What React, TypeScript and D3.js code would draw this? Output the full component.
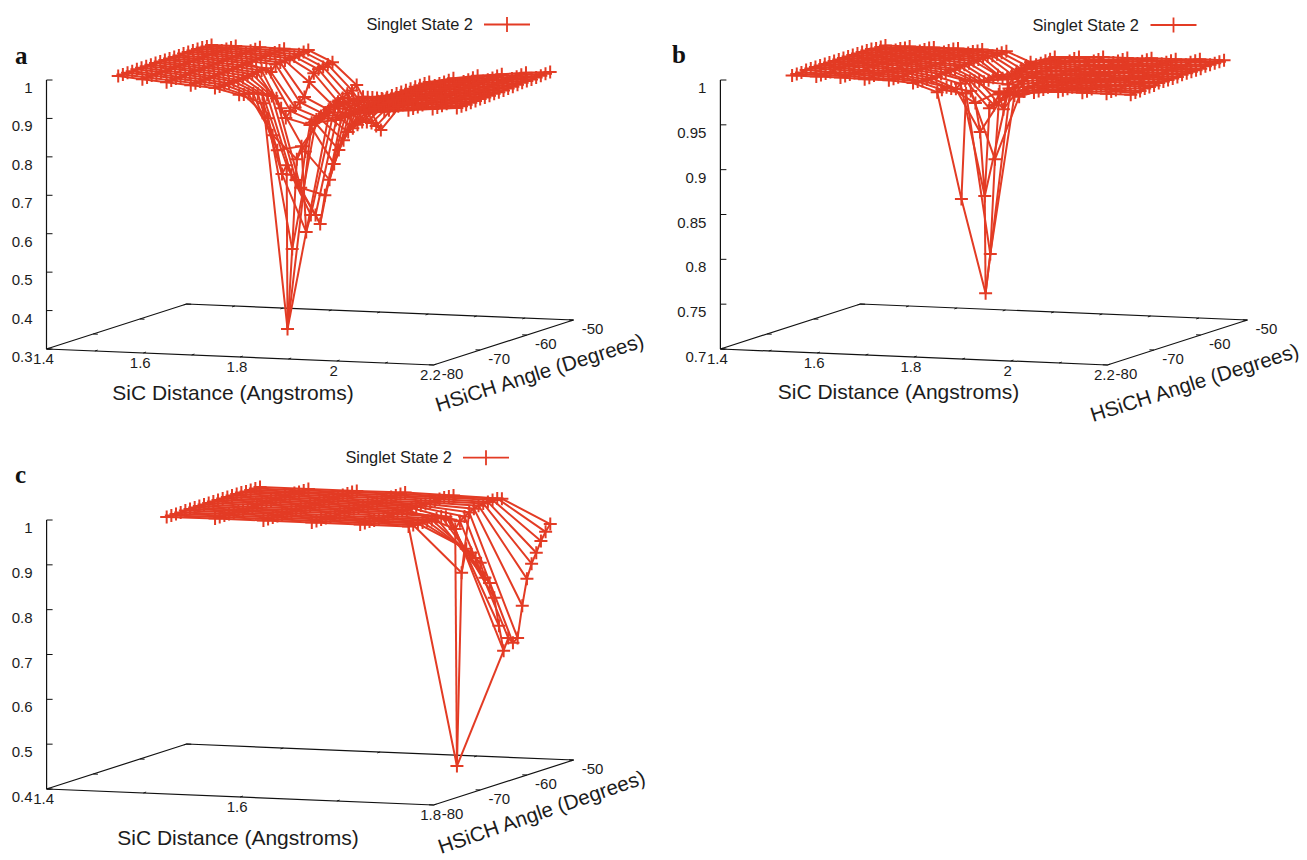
import * as d3 from "d3";

// rows of every z column run from -75 to -55 degrees
const angles = [-75, -74, -73, -72, -71, -70, -69, -68, -67, -66, -65, -64, -63, -62, -61, -60, -59, -58, -57, -56, -55];
const distancesLong = [1.5, 1.55, 1.6, 1.65, 1.7, 1.75, 1.8, 1.85, 1.9, 1.95, 2, 2.05, 2.1, 2.15, 2.2];
const distancesShort = [1.5, 1.55, 1.6, 1.65, 1.7, 1.75, 1.8];

const zA = [
  [.996, .996, .997, .997, .998, .998, .998, .998, .999, .999, .999, .999, .999, .999, 1, 1, 1, 1, 1, .999, .999],
  [.990, .991, .992, .992, .993, .993, .994, .994, .995, .995, .996, .996, .997, .997, .998, .998, .998, .999, .999, .999, .999],
  [.985, .986, .987, .987, .988, .989, .990, .990, .991, .991, .992, .993, .994, .994, .995, .995, .996, .996, .997, .997, .998],
  [.980, .981, .982, .983, .984, .984, .985, .986, .987, .987, .988, .989, .990, .991, .992, .993, .994, .994, .995, .996, .997],
  [.975, .975, .976, .976, .977, .977, .978, .979, .980, .981, .982, .984, .970, .986, .987, .988, .990, .991, .993, .995, .996],
  [.960, .957, .955, .952, .948, .942, .936, .930, .920, .890, .861, .875, .880, .890, .900, .935, .954, .960, .962, .965, .967],
  [.941, .898, .850, .807, .741, .760, .731, .714, .690, .780, .845, .849, .856, .862, .869, .875, .882, .888, .895, .900, .910],
  [.356, .560, .790, .820, .593, .633, .629, .602, .673, .709, .746, .779, .800, .818, .824, .829, .832, .828, .822, .810, .796],
  [.895, .900, .905, .910, .920, .920, .920, .920, .920, .920, .920, .920, .915, .910, .905, .900, .895, .890, .885, .880, .876],
  [.905, .908, .910, .912, .914, .915, .916, .917, .918, .919, .920, .921, .922, .923, .923, .924, .924, .925, .925, .926, .926],
  [.925, .925, .926, .926, .927, .928, .929, .930, .930, .931, .932, .932, .933, .934, .934, .935, .935, .936, .936, .937, .938],
  [.932, .932, .933, .934, .934, .935, .936, .936, .937, .938, .938, .939, .940, .941, .942, .942, .943, .944, .945, .946, .947],
  [.938, .939, .939, .940, .941, .941, .942, .943, .944, .945, .945, .946, .947, .948, .949, .950, .951, .951, .952, .953, .954],
  [.944, .944, .945, .946, .946, .947, .948, .949, .950, .950, .951, .952, .953, .954, .955, .956, .957, .957, .958, .959, .960],
  [.949, .950, .950, .951, .952, .953, .953, .954, .955, .955, .956, .957, .958, .959, .960, .961, .961, .962, .963, .964, .965],
];

const zB = [
  [.999, .999, .999, 1, 1, 1, 1, 1, 1, 1, 1, 1, 1, 1, 1, 1, 1, 1, .999, .999, .999],
  [.999, .999, .999, .999, 1, 1, 1, 1, 1, 1, 1, 1, 1, 1, 1, 1, 1, 1, 1, .999, .999],
  [.999, .999, .999, .999, .999, .999, 1, 1, 1, 1, 1, 1, 1, 1, 1, 1, 1, 1, 1, 1, .999],
  [.998, .998, .999, .999, .999, .999, .999, .999, 1, 1, 1, 1, 1, 1, 1, 1, 1, 1, 1, 1, .999],
  [.998, .998, .998, .998, .999, .999, .999, .999, .999, .999, .999, .999, 1, 1, 1, 1, 1, 1, 1, .999, .999],
  [.996, .996, .995, .995, .995, .995, .996, .996, .997, .997, .998, .998, .998, .999, .999, .999, .999, .998, .998, .998, .998],
  [.987, .988, .989, .986, .984, .988, .990, .988, .986, .984, .982, .982, .983, .984, .979, .978, .980, .982, .983, .985, .987],
  [.869, .985, .986, .971, .937, .864, .960, .962, .972, .954, .980, .984, .986, .988, .990, .991, .992, .992, .993, .993, .994],
  [.765, .807, .911, .985, .980, .985, .978, .986, .988, .990, .990, .991, .992, .992, .993, .993, .994, .994, .994, .995, .995],
  [.988, .985, .982, .986, .988, .989, .990, .990, .991, .991, .992, .992, .993, .993, .993, .994, .994, .995, .995, .995, .996],
  [.991, .991, .991, .992, .992, .992, .993, .993, .993, .993, .994, .994, .994, .995, .995, .995, .995, .996, .996, .996, .996],
  [.993, .993, .993, .993, .993, .994, .994, .994, .994, .995, .995, .995, .995, .996, .996, .996, .996, .996, .997, .997, .997],
  [.993, .993, .994, .994, .994, .994, .995, .995, .995, .995, .995, .996, .996, .996, .996, .997, .997, .997, .997, .997, .997],
  [.993, .994, .994, .994, .995, .995, .995, .995, .996, .996, .996, .996, .996, .997, .997, .997, .997, .997, .998, .998, .998],
  [.993, .994, .994, .995, .995, .995, .996, .996, .996, .996, .996, .997, .997, .997, .997, .997, .998, .998, .998, .998, .998],
];

const zC = [
  [.999, .999, .999, .999, 1, 1, 1, 1, 1, 1, 1, 1, 1, 1, 1, 1, 1, .999, .999, .999, .999],
  [1, 1, 1, 1, 1, 1, .999, .999, .999, 1, 1, 1, 1, 1, 1, 1, 1, 1, .999, .999, .999],
  [1, 1, 1, 1, 1, 1, 1, 1, 1, 1, 1, 1, 1, 1, 1, 1, 1, 1, 1, 1, .999],
  [1, 1, 1, 1, .999, .999, 1, 1, 1, 1, 1, 1, 1, 1, .999, .999, 1, 1, 1, 1, 1],
  [1, 1, 1, .999, .999, .999, .999, 1, 1, 1, 1, 1, 1, .999, .999, .999, .999, 1, 1, .999, .998],
  [1, 1, 1, .999, .999, .998, .998, .999, .995, .985, .961, .975, .982, .988, .993, .996, .998, .998, .999, .999, .995],
  [.470, .898, .948, .936, .921, .907, .870, .855, .8185, .753, .694, .719, .705, .7125, .781, .8375, .868, .889, .912, .929, .943],
];

const ticksZA = [0.3, 0.4, 0.5, 0.6, 0.7, 0.8, 0.9, 1];
const ticksZB = [0.7, 0.75, 0.8, 0.85, 0.9, 0.95, 1];
const ticksZC = [0.4, 0.5, 0.6, 0.7, 0.8, 0.9, 1];
const ticksXLong = [1.4, 1.5, 1.6, 1.7, 1.8, 1.9, 2, 2.1, 2.2];
const ticksXShort = [1.4, 1.5, 1.6, 1.7, 1.8];
const labelsXLong = [1.4, 1.6, 1.8, 2, 2.2];
const labelsXShort = [1.4, 1.6, 1.8];
const ticksAngle = [-80, -70, -60, -50];

// odd joins gnuplot drew through the spike: [col, row, col, row]
const linksA = [[7, 0, 7, 4], [7, 0, 6, 5]];
const linksB = [[8, 0, 7, 5]];
const linksC = [[6, 0, 6, 10], [6, 0, 5, 10], [6, 1, 5, 13]];

const RED = "#e33b24";
const INK = "#1c1c1c";
const SANS = "'Liberation Sans', Arial, sans-serif";
const ANGLE_TITLE = "HSiCH Angle (Degrees)";
const X_TITLE = "SiC Distance (Angstroms)";

type PanelProps = {
  letter: string;
  ox: number;
  oy: number;
  letterPos: [number, number];
  zDomain: [number, number];
  zTicks: number[];
  xDomain: [number, number];
  xTicks: number[];
  xLabels: number[];
  xs: number[];
  z: number[][];
  links: number[][];
  legend: [number, number, number]; // text end, line start, baseline centre
  xTitle: [number, number];
  angleTitle: [number, number, number];
};

function Panel(p: PanelProps) {
  // gnuplot view: x and angle shear into screen, z goes straight up
  const xScreenX = d3.scaleLinear().domain(p.xDomain).range([0, 387]);
  const xScreenY = d3.scaleLinear().domain(p.xDomain).range([0, 16]);
  const aScreenX = d3.scaleLinear().domain([-80, -50]).range([0, 140]);
  const aScreenY = d3.scaleLinear().domain([-80, -50]).range([0, -45]);
  const zScreen = d3.scaleLinear().domain(p.zDomain).range([0, -269]);

  const project = (x: number, a: number, z: number): [number, number] => [
    p.ox + xScreenX(x) + aScreenX(a),
    p.oy + xScreenY(x) + aScreenY(a) + zScreen(z),
  ];
  const line = d3.line();
  const [z0, z1] = p.zDomain;
  const [x0, x1] = p.xDomain;

  const points = p.xs.map((x, c) => angles.map((a, r) => project(x, a, p.z[c][r])));
  const columnPaths = points.map((col) => line(col));
  const rowPaths = angles.map((_, r) => line(points.map((col) => col[r])));
  const linkPaths = p.links.map(([c0, r0, c1, r1]) => line([points[c0][r0], points[c1][r1]]));

  const base = (
    [
      [x0, -80],
      [x1, -80],
      [x1, -50],
      [x0, -50],
      [x0, -80],
    ] as [number, number][]
  ).map(([x, a]) => project(x, a, z0));

  return (
    <g fontFamily={SANS} fill={INK}>
      <text x={p.letterPos[0]} y={p.letterPos[1]} fontFamily="'Liberation Serif', serif" fontWeight="bold" fontSize={25} fill="#111">
        {p.letter}
      </text>

      {/* legend */}
      <text x={p.legend[0]} y={p.legend[2] + 5.5} textAnchor="end" fontSize={16.4}>Singlet State 2</text>
      <path d={`M${p.legend[1]},${p.legend[2]}h46M${p.legend[1] + 23},${p.legend[2] - 7.5}v15`} stroke={RED} strokeWidth={1.8} fill="none" />

      {/* base and z axis */}
      <path d={line(base) ?? ""} fill="none" stroke="#111" strokeWidth={1.2} />
      <path d={line([project(x0, -80, z0), project(x0, -80, z1)]) ?? ""} stroke="#111" strokeWidth={1.2} fill="none" />
      {p.zTicks.map((t) => {
        const [sx, sy] = project(x0, -80, t);
        return (
          <g key={t}>
            <line x1={sx} x2={sx + 6} y1={sy} y2={sy} stroke="#111" />
            <text x={sx - 14} y={sy + 13} textAnchor="end" fontSize={15}>{t}</text>
          </g>
        );
      })}
      {p.xTicks.map((t) => (
        <g key={t}>
          <path d={line([project(t, -80, z0), project(t, -79.4, z0)]) ?? ""} stroke="#111" fill="none" />
          <path d={line([project(t, -50, z0), project(t, -50.6, z0)]) ?? ""} stroke="#111" fill="none" />
        </g>
      ))}
      {ticksAngle.map((t) => (
        <g key={t}>
          <path d={line([project(x0, t, z0), project(x0 + (x1 - x0) * 0.012, t, z0)]) ?? ""} stroke="#111" fill="none" />
          <path d={line([project(x1, t, z0), project(x1 - (x1 - x0) * 0.012, t, z0)]) ?? ""} stroke="#111" fill="none" />
        </g>
      ))}
      {p.xLabels.map((t) => {
        const [sx, sy] = project(t, -80, z0);
        return <text key={t} x={sx - 3} y={sy + 15} textAnchor="middle" fontSize={15}>{t}</text>;
      })}
      {ticksAngle.map((t) => {
        const [sx, sy] = project(x1, t, z0);
        return <text key={t} x={sx + 19} y={sy + 14} textAnchor="middle" fontSize={15}>{t}</text>;
      })}

      <text x={p.xTitle[0]} y={p.xTitle[1]} textAnchor="middle" fontSize={21}>{X_TITLE}</text>
      <text x={p.angleTitle[0]} y={p.angleTitle[1]} transform={`rotate(${p.angleTitle[2]} ${p.angleTitle[0]} ${p.angleTitle[1]})`} fontSize={20.6}>
        {ANGLE_TITLE}
      </text>

      {/* surface */}
      <g fill="none" stroke={RED} strokeWidth={2}>
        {columnPaths.map((d, i) => <path key={`c${i}`} d={d ?? ""} />)}
        {rowPaths.map((d, i) => <path key={`r${i}`} d={d ?? ""} />)}
        {linkPaths.map((d, i) => <path key={`l${i}`} d={d ?? ""} />)}
        {points.flat().map(([sx, sy], i) => (
          <path key={`m${i}`} d={`M${sx - 6.5},${sy}h13M${sx},${sy - 6.5}v13`} />
        ))}
      </g>
    </g>
  );
}

export default function App() {
  return (
    <svg width={1307} height={860} style={{ position: "absolute", left: 0, top: 0, background: "#fff" }}>
      <Panel
        letter="a" ox={46.5} oy={349} letterPos={[15, 64]}
        zDomain={[0.3, 1]} zTicks={ticksZA}
        xDomain={[1.4, 2.2]} xTicks={ticksXLong} xLabels={labelsXLong}
        xs={distancesLong} z={zA} links={linksA}
        legend={[473, 484, 24.5]} xTitle={[233, 400]} angleTitle={[438, 412, -17.5]}
      />
      <Panel
        letter="b" ox={720.4} oy={349} letterPos={[672, 63]}
        zDomain={[0.7, 1]} zTicks={ticksZB}
        xDomain={[1.4, 2.2]} xTicks={ticksXLong} xLabels={labelsXLong}
        xs={distancesLong} z={zB} links={linksB}
        legend={[1139, 1150.5, 25]} xTitle={[898.5, 399]} angleTitle={[1093, 422, -17.5]}
      />
      <Panel
        letter="c" ox={46.6} oy={789} letterPos={[15, 483]}
        zDomain={[0.4, 1]} zTicks={ticksZC}
        xDomain={[1.4, 1.8]} xTicks={ticksXShort} xLabels={labelsXShort}
        xs={distancesShort} z={zC} links={linksC}
        legend={[452, 463, 457.7]} xTitle={[238, 845]} angleTitle={[441, 854, -19]}
      />
    </svg>
  );
}
